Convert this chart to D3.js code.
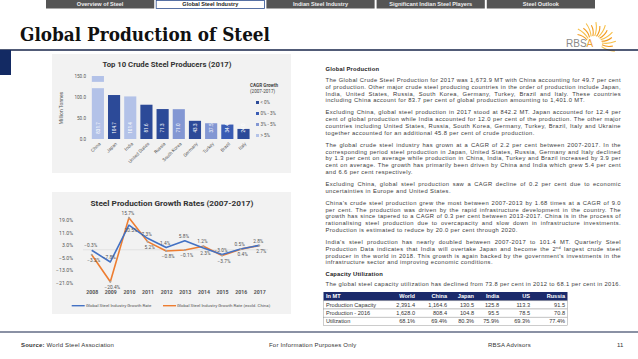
<!DOCTYPE html>
<html><head><meta charset="utf-8">
<script src="https://cdn.jsdelivr.net/npm/d3@7"></script>
<style>body{margin:0;background:#fff;} svg{display:block;font-family:"Liberation Sans",Arial,sans-serif;}</style>
</head><body><svg id="c" width="638" height="359"></svg>
<script>
// ---------------- data ----------------
const navItems = ["Overview of Steel","Global Steel Industry","Indian Steel Industry","Significant Indian Steel Players","Steel Outlook"];
const activeNav = "Global Steel Industry";

const countries = ["China","Japan","India","United States","Russia","South Korea","Germany","Turkey","Brazil","Italy"];
const production2017 = [831.7,104.7,101.4,81.6,71.3,71.0,43.3,37.5,34.4,24.0];
const cagrClass = ["> 5%","< 0%","> 5%","< 0%","< 0%","3% - 5%","< 0%","3% - 5%","0% - 3%","< 0%"];
const cagrClasses = ["< 0%","0% - 3%","3% - 5%","> 5%"];
const barTicks = [0,50,100,150];

const years = [2008,2009,2010,2011,2012,2013,2014,2015,2016,2017];
const globalGrowth = [-0.3,-7.8,15.7,7.3,1.4,5.8,1.2,-3.0,0.5,2.8];
const exChinaGrowth = [-3.2,-20.4,20.5,5.2,-0.8,-0.1,2.3,-3.7,0.4,2.7];
const growthTicks = [19,11,3,-5,-13,-21];
const seriesNames = ["Global Steel Industry Growth Rate","Global Steel Industry Growth Rate (excld. China)"];

const tableCols = ["World","China","Japan","India","US","Russia"];
const tableRows = ["Production Capacity","Production - 2016","Utilization"];
const capacity = [2391.4,1164.6,130.5,125.8,113.3,91.5];
const production2016 = [1628.0,808.4,104.8,95.5,78.5,70.8];
const utilization = [68.1,69.4,80.3,75.9,69.3,77.4];

// ---------------- page ----------------
const svg = d3.select("#c");
const navy = "#17244a";

// nav bar
const navX = d3.scaleBand().domain(navItems).range([46,595]).paddingInner(0.018);
const nav = svg.append("g");
navItems.forEach(n=>{
  const act = n===activeNav;
  nav.append("rect").attr("x",navX(n)).attr("y",act?0.5:0).attr("width",navX.bandwidth()).attr("height",act?8:8.5)
    .attr("fill",act?"#fff":"#555").attr("stroke",act?"#2f4f8f":"none").attr("stroke-width",0.8);
  nav.append("text").attr("x",navX(n)+navX.bandwidth()/2).attr("y",4.3).attr("dy","0.35em")
    .attr("text-anchor","middle").attr("font-size",5.6).attr("font-weight","bold")
    .attr("fill",act?"#222":"#eee").text(n);
});

// title
svg.append("text").attr("x",20).attr("y",41).attr("font-family","'DejaVu Serif',serif").attr("font-weight","bold")
  .attr("font-size",19).attr("fill","#111").attr("textLength",250).attr("lengthAdjust","spacingAndGlyphs")
  .text("Global Production of Steel");

// logo
const logo = svg.append("g");
const lc = [594,44];
d3.range(-150,30,13).forEach((a,i)=>{
  const r0=8, r1=19+(i%2)*3, rad=a*Math.PI/180;
  const x0=lc[0]+r0*Math.cos(rad), y0=lc[1]+r0*Math.sin(rad);
  const x1=lc[0]+r1*Math.cos(rad), y1=lc[1]+r1*Math.sin(rad);
  const cx=(x0+x1)/2+2*Math.cos(rad+Math.PI/2), cy=(y0+y1)/2+2*Math.sin(rad+Math.PI/2);
  logo.append("path").attr("d",`M${x0},${y0}Q${cx},${cy} ${x1},${y1}`).attr("fill","none")
    .attr("stroke",i%2?"#f7c04a":"#f39a1e").attr("stroke-width",1.1);
});
const lt = logo.append("text").attr("x",566).attr("y",47).attr("font-size",10).attr("fill","#8a8a8a");
lt.append("tspan").text("RBS"); lt.append("tspan").attr("fill","#f0a030").text("A");

// rules
svg.append("line").attr("x1",0).attr("x2",638).attr("y1",50).attr("y2",50).attr("stroke",navy).attr("stroke-width",1.3);
svg.append("rect").attr("x",0).attr("y",50).attr("width",11).attr("height",25).attr("fill","#132a63");
svg.append("line").attr("x1",0).attr("x2",638).attr("y1",332).attr("y2",332).attr("stroke",navy).attr("stroke-width",1.2);

// footer
const foot = svg.append("g").attr("font-size",6).attr("fill","#333").attr("letter-spacing",0.2);
const f1 = foot.append("text").attr("x",21).attr("y",345).attr("dy","0.35em");
f1.append("tspan").attr("font-weight","bold").text("Source:");
f1.append("tspan").text(" World Steel Association");
foot.append("text").attr("x",269).attr("y",345).attr("dy","0.35em").text("For Information Purposes Only");
foot.append("text").attr("x",488).attr("y",345).attr("dy","0.35em").text("RBSA Advisors");
foot.append("text").attr("x",617).attr("y",345).attr("dy","0.35em").text("11");

// ---------------- bar chart ----------------
const panelFill = "#f2f2f2";
svg.append("rect").attr("x",52).attr("y",54).attr("width",239).attr("height",119).attr("fill",panelFill);
svg.append("text").attr("x",167).attr("y",64).attr("dy","0.35em").attr("text-anchor","middle")
  .attr("font-family","Roboto,sans-serif").attr("font-weight","bold").attr("font-size",7.6).attr("fill","#333")
  .attr("textLength",129).attr("lengthAdjust","spacingAndGlyphs").text("Top 10 Crude Steel Producers (2017)");

const colorOf = d3.scaleOrdinal().domain(cagrClasses).range(["#2c4a98","#3a5cb4","#8397d3","#b3c2e8"]);
const bx = d3.scaleBand().domain(countries).range([89.8,251.6]).paddingInner(0.25).paddingOuter(0.125);
const by = d3.scaleLinear().domain([0,150]).range([139,76]);

const yAx = svg.append("g").attr("transform","translate(87,0)").call(d3.axisLeft(by).tickValues(barTicks).tickSize(0).tickFormat(d3.format(".1f")));
yAx.select(".domain").remove();
yAx.selectAll("text").attr("font-size",4.6).attr("fill","#555").attr("font-family","Roboto,sans-serif").attr("x",-1);
svg.append("text").attr("transform","translate(61,108) rotate(-90)").attr("text-anchor","middle").attr("dy","0.35em")
  .attr("font-size",5).attr("fill","#555").attr("font-family","Roboto,sans-serif").text("Million Tonnes");

const bars = svg.append("g");
countries.forEach((c,i)=>{
  const v = production2017[i];
  const top = by(Math.min(v,150));
  bars.append("rect").attr("x",bx(c)).attr("y",top).attr("width",bx.bandwidth()).attr("height",by(0)-top)
    .attr("fill",colorOf(cagrClass[i]));
  if (v>150) {
    bars.append("rect").attr("x",bx(c)-0.5).attr("y",by(136)).attr("width",bx.bandwidth()+1).attr("height",by(121)-by(136)).attr("fill",panelFill);
  }
  bars.append("text").attr("transform",`translate(${bx(c)+bx.bandwidth()/2},128) rotate(-90)`).attr("text-anchor","middle")
    .attr("dy","0.35em").attr("font-size",4.6).attr("fill","#fff").attr("font-family","Roboto,sans-serif").text(d3.format(".1f")(v));
  bars.append("text").attr("transform",`translate(${bx(c)+bx.bandwidth()/2+2},143) rotate(-45)`).attr("text-anchor","end")
    .attr("dy","0.35em").attr("font-size",4.6).attr("fill","#555").attr("font-family","Roboto,sans-serif").text(c);
});

const lg = svg.append("g").attr("font-family","Roboto,sans-serif");
lg.append("text").attr("x",250).attr("y",85).attr("dy","0.35em").attr("font-size",4.6).attr("font-weight","bold").attr("fill","#444").text("CAGR Growth");
lg.append("text").attr("x",250).attr("y",91.5).attr("dy","0.35em").attr("font-size",4.6).attr("fill","#444").text("(2007-2017)");
cagrClasses.forEach((k,i)=>{
  const yy = 102.5+i*11;
  lg.append("rect").attr("x",256).attr("y",yy-1.5).attr("width",3).attr("height",3).attr("fill",colorOf(k));
  lg.append("text").attr("x",260.5).attr("y",yy).attr("dy","0.35em").attr("font-size",4.6).attr("fill","#555").text(k);
});

// ---------------- line chart ----------------
svg.append("rect").attr("x",52).attr("y",192).attr("width",239).attr("height",122).attr("fill",panelFill);
svg.append("text").attr("x",172).attr("y",203).attr("dy","0.35em").attr("text-anchor","middle")
  .attr("font-family","Roboto,sans-serif").attr("font-weight","bold").attr("font-size",7.6).attr("fill","#333")
  .attr("textLength",163).attr("lengthAdjust","spacingAndGlyphs").text("Steel Production Growth Rates (2007-2017)");

const lx = d3.scalePoint().domain(years).range([91.7,259.3]);
const ly = d3.scaleLinear().domain([-21,19]).range([282.7,220]);

const lyAx = svg.append("g").attr("transform","translate(76,0)").call(d3.axisLeft(ly).tickValues(growthTicks).tickSize(0).tickFormat(d=>d3.format(".1f")(d)+"%"));
lyAx.select(".domain").remove();
lyAx.selectAll("text").attr("font-size",5.2).attr("fill","#555").attr("font-family","Roboto,sans-serif");
const lxAx = svg.append("g").attr("transform","translate(0,287)").call(d3.axisBottom(lx).tickSize(0));
lxAx.select(".domain").remove();
lxAx.selectAll("text").attr("font-size",5.2).attr("fill","#555").attr("font-family","Roboto,sans-serif").attr("font-weight","bold");

svg.append("line").attr("x1",83).attr("x2",268).attr("y1",ly(0)).attr("y2",ly(0)).attr("stroke","#d9d9d9").attr("stroke-width",0.6);

const series = [globalGrowth, exChinaGrowth];
const lineColors = ["#4472c4","#ed7d31"];
const line = d3.line().x((d,i)=>lx(years[i])).y(d=>ly(d));
[1,0].forEach(s=>{
  svg.append("path").attr("d",line(series[s])).attr("fill","none").attr("stroke",lineColors[s]).attr("stroke-width",1.6).attr("stroke-linejoin","round");
});
years.forEach((yv,i)=>{
  svg.append("circle").attr("cx",lx(yv)).attr("cy",ly(exChinaGrowth[i])).attr("r",1).attr("fill","#a6a6a6");
});
const lbl = svg.append("g").attr("font-family","Roboto,sans-serif").attr("font-size",4.8).attr("fill","#555").attr("text-anchor","middle");
const pct = v => d3.format(".1f")(v)+"%";
years.forEach((yv,i)=>{
  const g = globalGrowth[i], e = exChinaGrowth[i];
  lbl.append("text").attr("x",lx(yv)-1).attr("y",ly(Math.max(g,e))-4.5).attr("dy","0.35em").text(pct(g));
  lbl.append("text").attr("x",lx(yv)+2).attr("y",ly(Math.min(g,e))+5.5).attr("dy","0.35em").text(pct(e));
});
// legend
const ll = svg.append("g").attr("font-family","Roboto,sans-serif").attr("font-size",4.4).attr("fill","#555");
[[71.7,86,0],[163,177,1]].forEach(([x0,tx,s])=>{
  ll.append("line").attr("x1",x0).attr("x2",x0+13).attr("y1",305.7).attr("y2",305.7).attr("stroke",lineColors[s]).attr("stroke-width",1.4);
  ll.append("text").attr("x",tx).attr("y",305.7).attr("dy","0.35em").text(seriesNames[s]);
});

// ---------------- right text column ----------------
const tx0 = 325.5, tx1 = 621, LH = 6.8;
const blocks = [
  {y:69, bold:true, lines:["Global Production"]},
  {y:80, lines:[
    "The Global Crude Steel Production for 2017 was 1,673.9 MT with China accounting for 49.7 per cent",
    "of production. Other major crude steel producing countries in the order of production include Japan,",
    "India, United States, Russia, South Korea, Germany, Turkey, Brazil and Italy. These countries",
    "including China account for 83.7 per cent of global production amounting to 1,401.0 MT."]},
  {y:112.4, lines:[
    "Excluding China, global steel production in 2017 stood at 842.2 MT. Japan accounted for 12.4 per",
    "cent of global production while India accounted for 12.0 per cent of the production. The other major",
    "countries including United States, Russia, South Korea, Germany, Turkey, Brazil, Italy and Ukraine",
    "together accounted for an additional 45.8 per cent of crude production."]},
  {y:144.8, lines:[
    "The global crude steel industry has grown at a CAGR of 2.2 per cent between 2007-2017. In the",
    "corresponding period steel production in Japan, United States, Russia, Germany and Italy declined",
    "by 1.3 per cent on average while production in China, India, Turkey and Brazil increased by 3.9 per",
    "cent on average. The growth has primarily been driven by China and India which grew 5.4 per cent",
    "and 6.6 per cent respectively."]},
  {y:184, lines:[
    "Excluding China, global steel production saw a CAGR decline of 0.2 per cent due to economic",
    "uncertainties in Europe and United States."]},
  {y:202.8, lines:[
    "China\u2019s crude steel production grew the most between 2007-2013 by 1.68 times at a CAGR of 9.0",
    "per cent. The production was driven by the rapid infrastructure development in the country. The",
    "growth has since tapered to a CAGR of 0.3 per cent between 2013-2017. China is in the process of",
    "rationalising steel production due to overcapacity and slow down in infrastructure investments.",
    "Production is estimated to reduce by 20.0 per cent through 2020."]},
  {y:242, lines:[
    "India\u2019s steel production has nearly doubled between 2007-2017 to 101.4 MT. Quarterly Steel",
    "Production Data indicates that India will overtake Japan and become the 2|nd| largest crude steel",
    "producer in the world in 2018. This growth is again backed by the government\u2019s investments in the",
    "infrastructure sector and improving economic conditions."]},
  {y:273.5, bold:true, lines:["Capacity Utilization"]},
  {y:283.5, lines:["The global steel capacity utilization has declined from 73.8 per cent in 2012 to 68.1 per cent in 2016."]}
];
const tc = svg.append("g").attr("font-size",5.8).attr("fill","#3a3a3a").attr("letter-spacing",0.4);
blocks.forEach(b=>{
  b.lines.forEach((ln,i)=>{
    const t = tc.append("text").attr("x",tx0).attr("y",b.y+i*LH).attr("dy","0.35em");
    if (b.bold) t.attr("font-weight","bold").attr("fill","#222").attr("letter-spacing",0.2);
    const parts = ln.split("|");
    parts.forEach((p,k)=>{
      const sp = t.append("tspan").text(p);
      if (k===1) sp.attr("font-size",3.8).attr("dy",-1.8);
      if (k===2) sp.attr("dy",1.8);
    });
    const nat = t.node().getComputedTextLength();
    const spaces = (ln.match(/ /g)||[]).length;
    if (!b.bold && spaces>0 && (i < b.lines.length-1 || nat > tx1-tx0)) {
      t.attr("word-spacing",((tx1-tx0)-nat)/spaces);
    }
  });
});

// ---------------- table ----------------
const tbl = svg.append("g").attr("font-size",5.6);
const tL = 323.5, tR = 567.5, hTop = 292, hH = 8.8, rH = 8.2;
const colRight = [415,447,474,499,530,565];
tbl.append("rect").attr("x",tL).attr("y",hTop).attr("width",tR-tL).attr("height",hH).attr("fill","#1b2a6b");
tbl.append("text").attr("x",326).attr("y",hTop+hH/2).attr("dy","0.35em").attr("fill","#fff").attr("font-weight","bold").text("In MT");
tableCols.forEach((c,j)=>{
  tbl.append("text").attr("x",colRight[j]).attr("y",hTop+hH/2).attr("dy","0.35em").attr("text-anchor","end")
    .attr("fill","#fff").attr("font-weight","bold").text(c);
});
const rowVals = [capacity.map(d3.format(",.1f")), production2016.map(d3.format(",.1f")), utilization.map(v=>d3.format(".1f")(v)+"%")];
tableRows.forEach((r,i)=>{
  const y0 = hTop+hH+i*rH;
  tbl.append("rect").attr("x",tL).attr("y",y0).attr("width",tR-tL).attr("height",rH).attr("fill","#fff").attr("stroke","#9a9a9a").attr("stroke-width",0.5);
  tbl.append("text").attr("x",326).attr("y",y0+rH/2).attr("dy","0.35em").attr("fill","#333").text(r);
  rowVals[i].forEach((v,j)=>{
    tbl.append("text").attr("x",colRight[j]).attr("y",y0+rH/2).attr("dy","0.35em").attr("text-anchor","end").attr("fill","#333").text(v);
  });
});
</script></body></html>
